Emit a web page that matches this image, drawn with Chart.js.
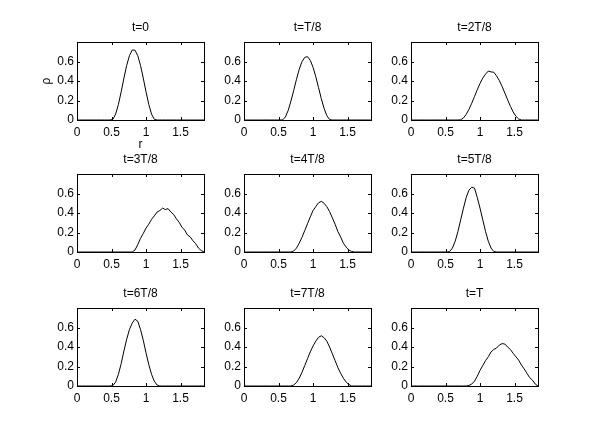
<!DOCTYPE html>
<html>
<head>
<meta charset="utf-8">
<script src="https://cdn.jsdelivr.net/npm/chart.js@4/dist/chart.umd.min.js"></script>
<style>
  body { margin: 0; background: #fff; }
  #wrap { position: relative; width: 593px; height: 445px; }
  #wrap canvas { position: absolute; }
</style>
</head>
<body>
<div id="wrap"></div>
<script>
// r grid shared by all nine panels
const R = [0, 0.04, 0.08, 0.12, 0.16, 0.2, 0.24, 0.28, 0.32, 0.36, 0.4, 0.44,
  0.48, 0.52, 0.56, 0.6, 0.64, 0.68, 0.72, 0.76, 0.8, 0.84, 0.88, 0.92,
  0.96, 1, 1.04, 1.08, 1.12, 1.16, 1.2, 1.24, 1.28, 1.32, 1.36, 1.4,
  1.44, 1.48, 1.52, 1.56, 1.6, 1.64, 1.68, 1.72, 1.76, 1.8, 1.84];

// rho(r)
const RHO_0 = [0, 0, 0, 0, 0, 0, 0, 0, 0, 0, 0, 0,
  0, 0.007, 0.061, 0.160, 0.289, 0.430, 0.560, 0.660, 0.718, 0.716, 0.660, 0.560,
  0.430, 0.289, 0.160, 0.061, 0.007, 0, 0, 0, 0, 0, 0, 0,
  0, 0, 0, 0, 0, 0, 0, 0, 0, 0, 0];
const RHO_1 = [0, 0, 0, 0, 0, 0, 0, 0, 0, 0, 0, 0,
  0, 0, 0.001, 0.031, 0.098, 0.193, 0.303, 0.417, 0.519, 0.598, 0.642, 0.650,
  0.612, 0.542, 0.444, 0.332, 0.219, 0.120, 0.045, 0.005, 0, 0, 0, 0,
  0, 0, 0, 0, 0, 0, 0, 0, 0, 0, 0];
const RHO_2 = [0, 0, 0, 0, 0, 0, 0, 0, 0, 0, 0, 0,
  0, 0, 0, 0, 0, 0, 0.002, 0.021, 0.058, 0.110, 0.172, 0.241,
  0.310, 0.375, 0.430, 0.470, 0.502, 0.493, 0.490, 0.452, 0.404, 0.344, 0.276, 0.206,
  0.141, 0.083, 0.038, 0.010, 0, 0, 0, 0, 0, 0, 0];
const RHO_3 = [0, 0, 0, 0, 0, 0, 0, 0, 0, 0, 0, 0,
  0, 0, 0, 0, 0, 0, 0, 0, 0, 0.02, 0.075, 0.14,
  0.19, 0.245, 0.285, 0.335, 0.37, 0.41, 0.425, 0.45, 0.435, 0.445, 0.41, 0.385,
  0.34, 0.305, 0.255, 0.225, 0.175, 0.155, 0.115, 0.085, 0.04, 0.015, 0];
const RHO_4 = [0, 0, 0, 0, 0, 0, 0, 0, 0, 0, 0, 0,
  0, 0, 0, 0, 0, 0, 0.01, 0.04, 0.09, 0.15, 0.22, 0.29,
  0.36, 0.425, 0.465, 0.505, 0.52, 0.50, 0.465, 0.415, 0.35, 0.285, 0.21, 0.155,
  0.09, 0.05, 0.02, 0.005, 0, 0, 0, 0, 0, 0, 0];
const RHO_5 = [0, 0, 0, 0, 0, 0, 0, 0, 0, 0, 0, 0,
  0, 0, 0.005, 0.04, 0.11, 0.21, 0.33, 0.45, 0.56, 0.635, 0.665, 0.655,
  0.56, 0.45, 0.33, 0.21, 0.11, 0.04, 0.005, 0, 0, 0, 0, 0,
  0, 0, 0, 0, 0, 0, 0, 0, 0, 0, 0];
const RHO_6 = [0, 0, 0, 0, 0, 0, 0, 0, 0, 0, 0, 0,
  0, 0.005, 0.04, 0.12, 0.23, 0.36, 0.48, 0.58, 0.645, 0.685, 0.665, 0.58,
  0.47, 0.34, 0.22, 0.12, 0.05, 0.01, 0, 0, 0, 0, 0, 0,
  0, 0, 0, 0, 0, 0, 0, 0, 0, 0, 0];
const RHO_7 = [0, 0, 0, 0, 0, 0, 0, 0, 0, 0, 0, 0,
  0, 0, 0, 0, 0, 0, 0.01, 0.035, 0.08, 0.14, 0.21, 0.28,
  0.35, 0.41, 0.46, 0.50, 0.515, 0.495, 0.46, 0.40, 0.33, 0.26, 0.19, 0.13,
  0.08, 0.04, 0.015, 0, 0, 0, 0, 0, 0, 0, 0];
const RHO_8 = [0, 0, 0, 0, 0, 0, 0, 0, 0, 0, 0, 0,
  0, 0, 0, 0, 0, 0, 0, 0, 0, 0.005, 0.02, 0.05,
  0.10, 0.16, 0.21, 0.26, 0.30, 0.35, 0.375, 0.39, 0.42, 0.435, 0.43, 0.40,
  0.375, 0.335, 0.30, 0.265, 0.215, 0.175, 0.13, 0.085, 0.06, 0.02, 0];

const SERIES = [RHO_0, RHO_1, RHO_2, RHO_3, RHO_4, RHO_5, RHO_6, RHO_7, RHO_8];
const TITLES = ['t=0', 't=T/8', 't=2T/8', 't=3T/8', 't=4T/8', 't=5T/8', 't=6T/8', 't=7T/8', 't=T'];
const X_TICKS = [0, 0.5, 1, 1.5];
const Y_TICKS = [0, 0.2, 0.4, 0.6];
const X_MAX = 1.84;
const Y_MAX = 0.8;

// layout of the 3x3 grid (plot box positions in the page)
const COL_LEFT = [77, 244, 411];
const ROW_TOP = [42, 174, 308];
const BOX_W = 127, BOX_H = 78;
const PAD_L = 50, PAD_T = 30, PAD_R = 8, PAD_B = 32;
const FONT = "'Liberation Sans', Arial, Helvetica, sans-serif";
const FONT_SIZE = 12;

Chart.defaults.font.family = FONT;
Chart.defaults.color = '#000';

// matlab style box: frame, inward ticks on all four sides, title above
const axesBox = {
  id: 'axesBox',
  afterDraw(chart, args, opts) {
    const { ctx, chartArea: a, scales: { x, y } } = chart;
    ctx.save();
    ctx.strokeStyle = '#000';
    ctx.lineWidth = 1;
    ctx.beginPath();
    X_TICKS.forEach(v => {
      const px = Math.round(x.getPixelForValue(v)) + 0.5;
      ctx.moveTo(px, a.bottom); ctx.lineTo(px, a.bottom - 3);
      ctx.moveTo(px, a.top); ctx.lineTo(px, a.top + 3);
    });
    Y_TICKS.forEach(v => {
      const py = Math.round(y.getPixelForValue(v)) + 0.5;
      ctx.moveTo(a.left, py); ctx.lineTo(a.left + 3, py);
      ctx.moveTo(a.right, py); ctx.lineTo(a.right - 3, py);
    });
    ctx.stroke();
    ctx.strokeRect(a.left + 0.5, a.top + 0.5, a.right - a.left, a.bottom - a.top);
    ctx.fillStyle = '#000';
    ctx.font = FONT_SIZE + 'px ' + FONT;
    ctx.textAlign = 'center';
    ctx.textBaseline = 'middle';
    ctx.fillText(opts.text, (a.left + a.right) / 2, a.top - 14);
    ctx.restore();
  }
};

const wrap = document.getElementById('wrap');

SERIES.forEach((rho, i) => {
  const row = Math.floor(i / 3), col = i % 3;
  const canvas = document.createElement('canvas');
  canvas.width = PAD_L + BOX_W + PAD_R;
  canvas.height = PAD_T + BOX_H + PAD_B;
  canvas.style.left = (COL_LEFT[col] - PAD_L) + 'px';
  canvas.style.top = (ROW_TOP[row] - PAD_T) + 'px';
  wrap.appendChild(canvas);

  const first = i === 0;
  new Chart(canvas, {
    type: 'line',
    data: {
      datasets: [{
        data: R.map((r, k) => ({ x: r, y: rho[k] })),
        borderColor: '#000',
        borderWidth: 1,
        pointRadius: 0,
        tension: 0,
        fill: false
      }]
    },
    options: {
      responsive: false,
      animation: false,
      events: [],
      layout: { padding: { left: 0, top: PAD_T, right: PAD_R, bottom: 0 } },
      plugins: {
        legend: { display: false },
        tooltip: { enabled: false },
        axesBox: { text: TITLES[i] }
      },
      scales: {
        x: {
          type: 'linear',
          min: 0,
          max: X_MAX,
          bounds: 'data',
          afterBuildTicks: s => { s.ticks = X_TICKS.map(v => ({ value: v })); },
          afterFit: s => { s.height = PAD_B; },
          grid: { display: false, drawTicks: false },
          border: { display: false },
          ticks: { padding: 5.5, maxRotation: 0, autoSkip: false, font: { size: FONT_SIZE }, callback: v => String(v) },
          title: { display: first, text: 'r', font: { size: FONT_SIZE }, padding: { top: 0, bottom: 0 } }
        },
        y: {
          type: 'linear',
          min: 0,
          max: Y_MAX,
          bounds: 'data',
          afterBuildTicks: s => { s.ticks = Y_TICKS.map(v => ({ value: v })); },
          afterFit: s => { s.width = PAD_L; },
          grid: { display: false, drawTicks: false },
          border: { display: false },
          ticks: { padding: 3, autoSkip: false, font: { size: FONT_SIZE }, callback: v => String(v) },
          title: { display: first, text: 'ρ', font: { size: FONT_SIZE }, padding: { top: 12.5, bottom: 0 } }
        }
      }
    },
    plugins: [axesBox]
  });
});
</script>
</body>
</html>
